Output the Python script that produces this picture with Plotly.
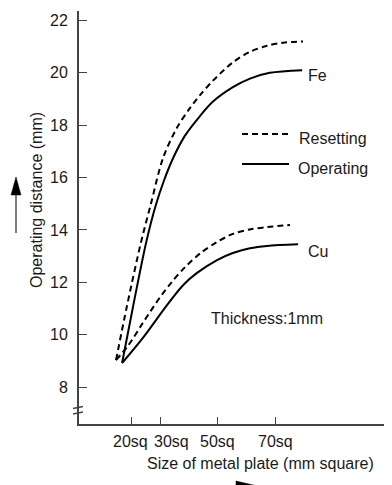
import plotly.graph_objects as go

# ---- data ----
fe_op_x = [16.8, 21.0, 25.2, 28.5, 31.2, 34.3, 38.6, 43.8, 48.3, 55.2, 61.1, 68.0, 79.2]
fe_op_y = [8.92, 11.3, 13.55, 14.95, 15.85, 16.7, 17.6, 18.35, 18.9, 19.45, 19.78, 20.0, 20.1]

fe_rs_x = [14.7, 18.5, 23.4, 26.8, 31.0, 35.8, 40.3, 43.8, 48.3, 55.2, 61.1, 67.0, 72.6, 79.5]
fe_rs_y = [9.03, 11.1, 13.55, 15.0, 16.75, 17.9, 18.65, 19.15, 19.7, 20.4, 20.8, 21.03, 21.15, 21.2]

cu_op_x = [16.8, 24.15, 32.3, 38.0, 42.66, 49.7, 55.2, 61.1, 67.0, 77.8]
cu_op_y = [8.92, 9.9, 11.12, 11.9, 12.35, 12.85, 13.12, 13.3, 13.39, 13.45]

cu_rs_x = [14.7, 19.0, 24.0, 29.9, 34.1, 38.6, 43.8, 49.7, 55.2, 61.1, 67.0, 75.0]
cu_rs_y = [9.03, 9.6, 10.45, 11.42, 12.02, 12.58, 13.1, 13.54, 13.85, 14.02, 14.11, 14.19]

x_tick_vals = [20, 30, 50, 70]
x_tick_labels = ["20sq", "30sq", "50sq", "70sq"]
x_label_pos = [19.55, 33.75, 50, 70]
y_tick_vals = [8, 10, 12, 14, 16, 18, 20, 22]

FONT = "Liberation Sans, Arial, sans-serif"
TXT = "#1a1a1a"
AX = "#444444"
DASH = "6px,4px"

# page has an 8px body margin; figure is sized so it fills the window exactly
OFF = 8
W, H = 392 - OFF, 485 - OFF
# plot area in page pixels: x 79..392, y 11..424
L, R, T, B = 79, 392, 11, 424
def px(x):
    return (x - L) / (R - L)
def py(y):
    return (B - y) / (B - T)

fig = go.Figure()
for xs, ys, dash in [(fe_rs_x, fe_rs_y, DASH), (fe_op_x, fe_op_y, "solid"),
                     (cu_rs_x, cu_rs_y, DASH), (cu_op_x, cu_op_y, "solid")]:
    fig.add_trace(go.Scatter(x=xs, y=ys, mode="lines",
                             line=dict(color="black", width=2, dash=dash,
                                       shape="spline", smoothing=0.9),
                             showlegend=False, hoverinfo="skip"))

def txt(x, y, t, anchor="left", angle=0):
    return dict(x=px(x), y=py(y), xref="paper", yref="paper", text=t, showarrow=False,
                xanchor=anchor, yanchor="middle", textangle=angle,
                font=dict(size=16, color=TXT, family=FONT))

ann = []
for v, t in zip(x_label_pos, x_tick_labels):
    ann.append(dict(x=v, xref="x", y=py(441.7), yref="paper", text=t,
                    showarrow=False, xanchor="center", yanchor="middle",
                    font=dict(size=16, color=TXT, family=FONT)))
ann += [
    txt(260, 463, "Size of metal plate (mm square)", "center"),
    txt(36, 200, "Operating distance (mm)", "center", -90),
    txt(306, 76, "Fe"),
    txt(306, 251, "Cu"),
    txt(297, 138, "Resetting"),
    txt(296, 168, "Operating"),
    txt(209, 318, "Thickness:1mm"),
]

shapes = [
    # legend samples
    dict(type="line", xref="paper", yref="paper", x0=px(242), x1=px(289), y0=py(134), y1=py(134),
         line=dict(color="black", width=2, dash=DASH)),
    dict(type="line", xref="paper", yref="paper", x0=px(242), x1=px(289), y0=py(164), y1=py(164),
         line=dict(color="black", width=2)),
    # axis break marks
    dict(type="line", xref="paper", yref="paper", x0=px(73), x1=px(83), y0=py(408.5), y1=py(406.5),
         line=dict(color=AX, width=1.5)),
    dict(type="line", xref="paper", yref="paper", x0=px(73), x1=px(83), y0=py(414), y1=py(412),
         line=dict(color=AX, width=1.5)),
    # vertical arrow (y direction)
    dict(type="line", xref="paper", yref="paper", x0=px(16), x1=px(16), y0=py(233), y1=py(192),
         line=dict(color="#555555", width=1.5)),
    dict(type="path", xref="paper", yref="paper",
         path=f"M {px(11)} {py(195)} L {px(16)} {py(177)} L {px(21)} {py(195)} Z",
         fillcolor="black", line=dict(color="black", width=0.5)),
    # horizontal arrow head (partly cut off at the bottom edge)
    dict(type="path", xref="paper", yref="paper",
         path=f"M {px(236)} {py(481)} L {px(266)} {py(488)} L {px(236)} {py(495)} Z",
         fillcolor="black", line=dict(color="black", width=0.5)),
]

fig.update_layout(
    width=W, height=H,
    margin=dict(l=L - OFF, r=392 - R, t=T - OFF, b=485 - B, pad=0),
    paper_bgcolor="white", plot_bgcolor="white",
    font=dict(family=FONT, size=16, color=TXT),
    xaxis=dict(range=[1.87, 110.33], tickvals=x_tick_vals, showticklabels=False,
               ticks="inside", ticklen=7, tickwidth=1, tickcolor=AX,
               showline=True, linecolor=AX, linewidth=2, automargin=False,
               showgrid=False, zeroline=False, fixedrange=True),
    yaxis=dict(range=[6.59, 22.36], tickvals=y_tick_vals,
               ticks="inside", ticklen=8, tickwidth=1, tickcolor=AX,
               ticklabelstandoff=6, automargin=False,
               tickfont=dict(size=16, color=TXT, family=FONT),
               showline=True, linecolor=AX, linewidth=2,
               showgrid=False, zeroline=False, fixedrange=True),
    annotations=ann, shapes=shapes,
)

fig.write_html("out.html")
